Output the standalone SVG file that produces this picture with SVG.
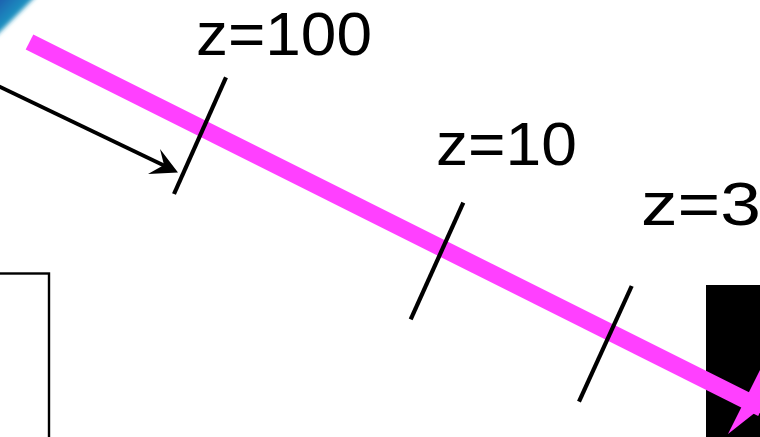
<svg xmlns="http://www.w3.org/2000/svg" width="760" height="437" viewBox="0 0 760 437">
<style>
.lbl{font-family:"Liberation Sans",Arial,Helvetica,sans-serif;fill:#000;font-size:62px;}
.tick{stroke:#000;stroke-width:4.2;stroke-linecap:butt;fill:none;}
</style>
<defs>
<linearGradient id="blob" x1="0" y1="0" x2="1" y2="1">
<stop offset="0" stop-color="#1b4fa8"/>
<stop offset="0.45" stop-color="#1f8fc0"/>
<stop offset="0.8" stop-color="#3cc0b0"/>
<stop offset="1" stop-color="#bfeee0"/>
</linearGradient>
<filter id="soft" x="-30%" y="-30%" width="160%" height="160%"><feGaussianBlur stdDeviation="2"/></filter>
</defs>
<rect width="760" height="437" fill="#fff"/>
<g id="image-fragment">
<polygon points="-6,-6 38,-6 -6,38" fill="url(#blob)" filter="url(#soft)"/>
</g>
<g id="left-box">
<rect x="-4" y="273.5" width="53" height="170" fill="none" stroke="#000" stroke-width="2.4"/>
</g>
<g id="black-block">
<rect x="706" y="285" width="60" height="160" fill="#000"/>
</g>
<g id="connectors">
<line x1="29.5" y1="42" x2="762" y2="408.3" stroke="#ff40ff" stroke-width="17" stroke-linecap="butt"/>
<polygon points="728,434 761,408 802,428 762,366" fill="#ff40ff"/>
<line x1="-2" y1="86" x2="164" y2="165.5" stroke="#000" stroke-width="3.8"/>
<polygon points="178,172.5 160,149 164,165 148,174" fill="#000"/>
</g>
<g id="ticks">
<line class="tick" x1="226" y1="77.3" x2="174" y2="194"/>
<line class="tick" x1="463.3" y1="202.7" x2="410.7" y2="319.3"/>
<line class="tick" x1="631.7" y1="286" x2="579" y2="401.7"/>
</g>
<g id="labels">
<text class="lbl" x="196" y="55" textLength="176" lengthAdjust="spacingAndGlyphs">z=100</text>
<text class="lbl" x="436" y="165" textLength="141" lengthAdjust="spacingAndGlyphs">z=10</text>
<text class="lbl" x="641" y="225" textLength="120" lengthAdjust="spacingAndGlyphs">z=3</text>
</g>
</svg>
